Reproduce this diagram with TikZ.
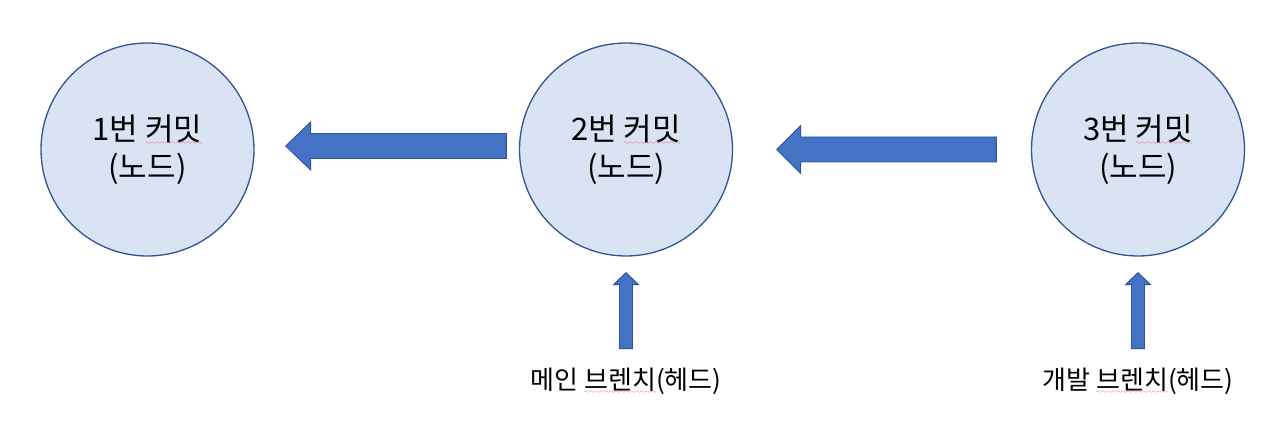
\documentclass[tikz,border=0pt]{standalone}
\usepackage{fontspec}
\usepackage{xcolor}
\usetikzlibrary{calc}
\newfontfamily\kofont{Noto Sans CJK KR}

\definecolor{circlefill}{HTML}{DAE3F3}
\definecolor{circleline}{HTML}{2F5597}
\definecolor{arrowfill}{HTML}{4472C4}
\definecolor{typored}{HTML}{E03030}

% red spell-check wave under a word
\font\typowave=lasy6
\newsavebox\typobox
\newcommand\typo[1]{\sbox\typobox{#1}\rlap{\lower4pt\hbox to\wd\typobox{\color{typored}\xleaders\hbox{\typowave\char58}\hfil}}#1}

\tikzset{
  commit/.style={circle, draw=circleline, fill=circlefill, line width=1.3pt,
    minimum size=213pt, inner sep=0pt, align=center,
    font=\kofont\fontsize{31}{38}\selectfont},
  commitarrow/.style={draw=circleline, fill=arrowfill, line width=0.9pt, line join=miter},
  branchlabel/.style={inner sep=0pt, font=\kofont\fontsize{26}{30}\selectfont}
}

\begin{document}
\begin{tikzpicture}[x=1pt,y=1pt]
      \useasboundingbox (0,0) rectangle (1280,421);

      \node[commit] (c1) at (147.5,271.5) {1번 \typo{커밋}\\(노드)};
      \node[commit] (c2) at (626,271.5) {2번 \typo{커밋}\\(노드)};
      \node[commit] (c3) at (1138,271.5) {3번 \typo{커밋}\\(노드)};

      \node[branchlabel] (mainhead) at (626,40) {메인 \typo{브렌치}(헤드)};
      \node[branchlabel] (devhead) at (1138,40) {개발 \typo{브렌치}(헤드)};

      % commit 2 -> commit 1
      \coordinate (a21tail) at ($(c2.west)+(-12.5,3.5)$);
      \coordinate (a21tip) at ($(c1.east)+(31,3.5)$);
      \draw[commitarrow] (a21tail) ++(0,12.5) -- ($(a21tip)+(25,12.5)$)
        -- ++(0,11.5) -- (a21tip) -- ($(a21tip)+(25,-24)$) -- ++(0,11.5)
        -- ($(a21tail)+(0,-12.5)$) -- cycle;

      % commit 3 -> commit 2
      \coordinate (a32tail) at ($(c3.west)+(-34.5,0)$);
      \coordinate (a32tip) at ($(c2.east)+(43.5,0)$);
      \draw[commitarrow] (a32tail) ++(0,12.5) -- ($(a32tip)+(24,12.5)$)
        -- ++(0,11.5) -- (a32tip) -- ($(a32tip)+(24,-24)$) -- ++(0,11.5)
        -- ($(a32tail)+(0,-12.5)$) -- cycle;

      % branch heads
      \coordinate (mtip) at ($(c2.south)+(0,-16)$);
      \coordinate (mfoot) at ($(mtip)+(0,-76)$);
      \draw[commitarrow] (mfoot) ++(-6.5,0) -- ($(mtip)+(-6.5,-12)$) -- ++(-6,0)
        -- (mtip) -- ($(mtip)+(12.5,-12)$) -- ++(-6,0)
        -- ($(mfoot)+(6.5,0)$) -- cycle;

      \coordinate (dtip) at ($(c3.south)+(0,-16)$);
      \coordinate (dfoot) at ($(dtip)+(0,-76)$);
      \draw[commitarrow] (dfoot) ++(-6.5,0) -- ($(dtip)+(-6.5,-12)$) -- ++(-6,0)
        -- (dtip) -- ($(dtip)+(12.5,-12)$) -- ++(-6,0)
        -- ($(dfoot)+(6.5,0)$) -- cycle;
\end{tikzpicture}
\end{document}
